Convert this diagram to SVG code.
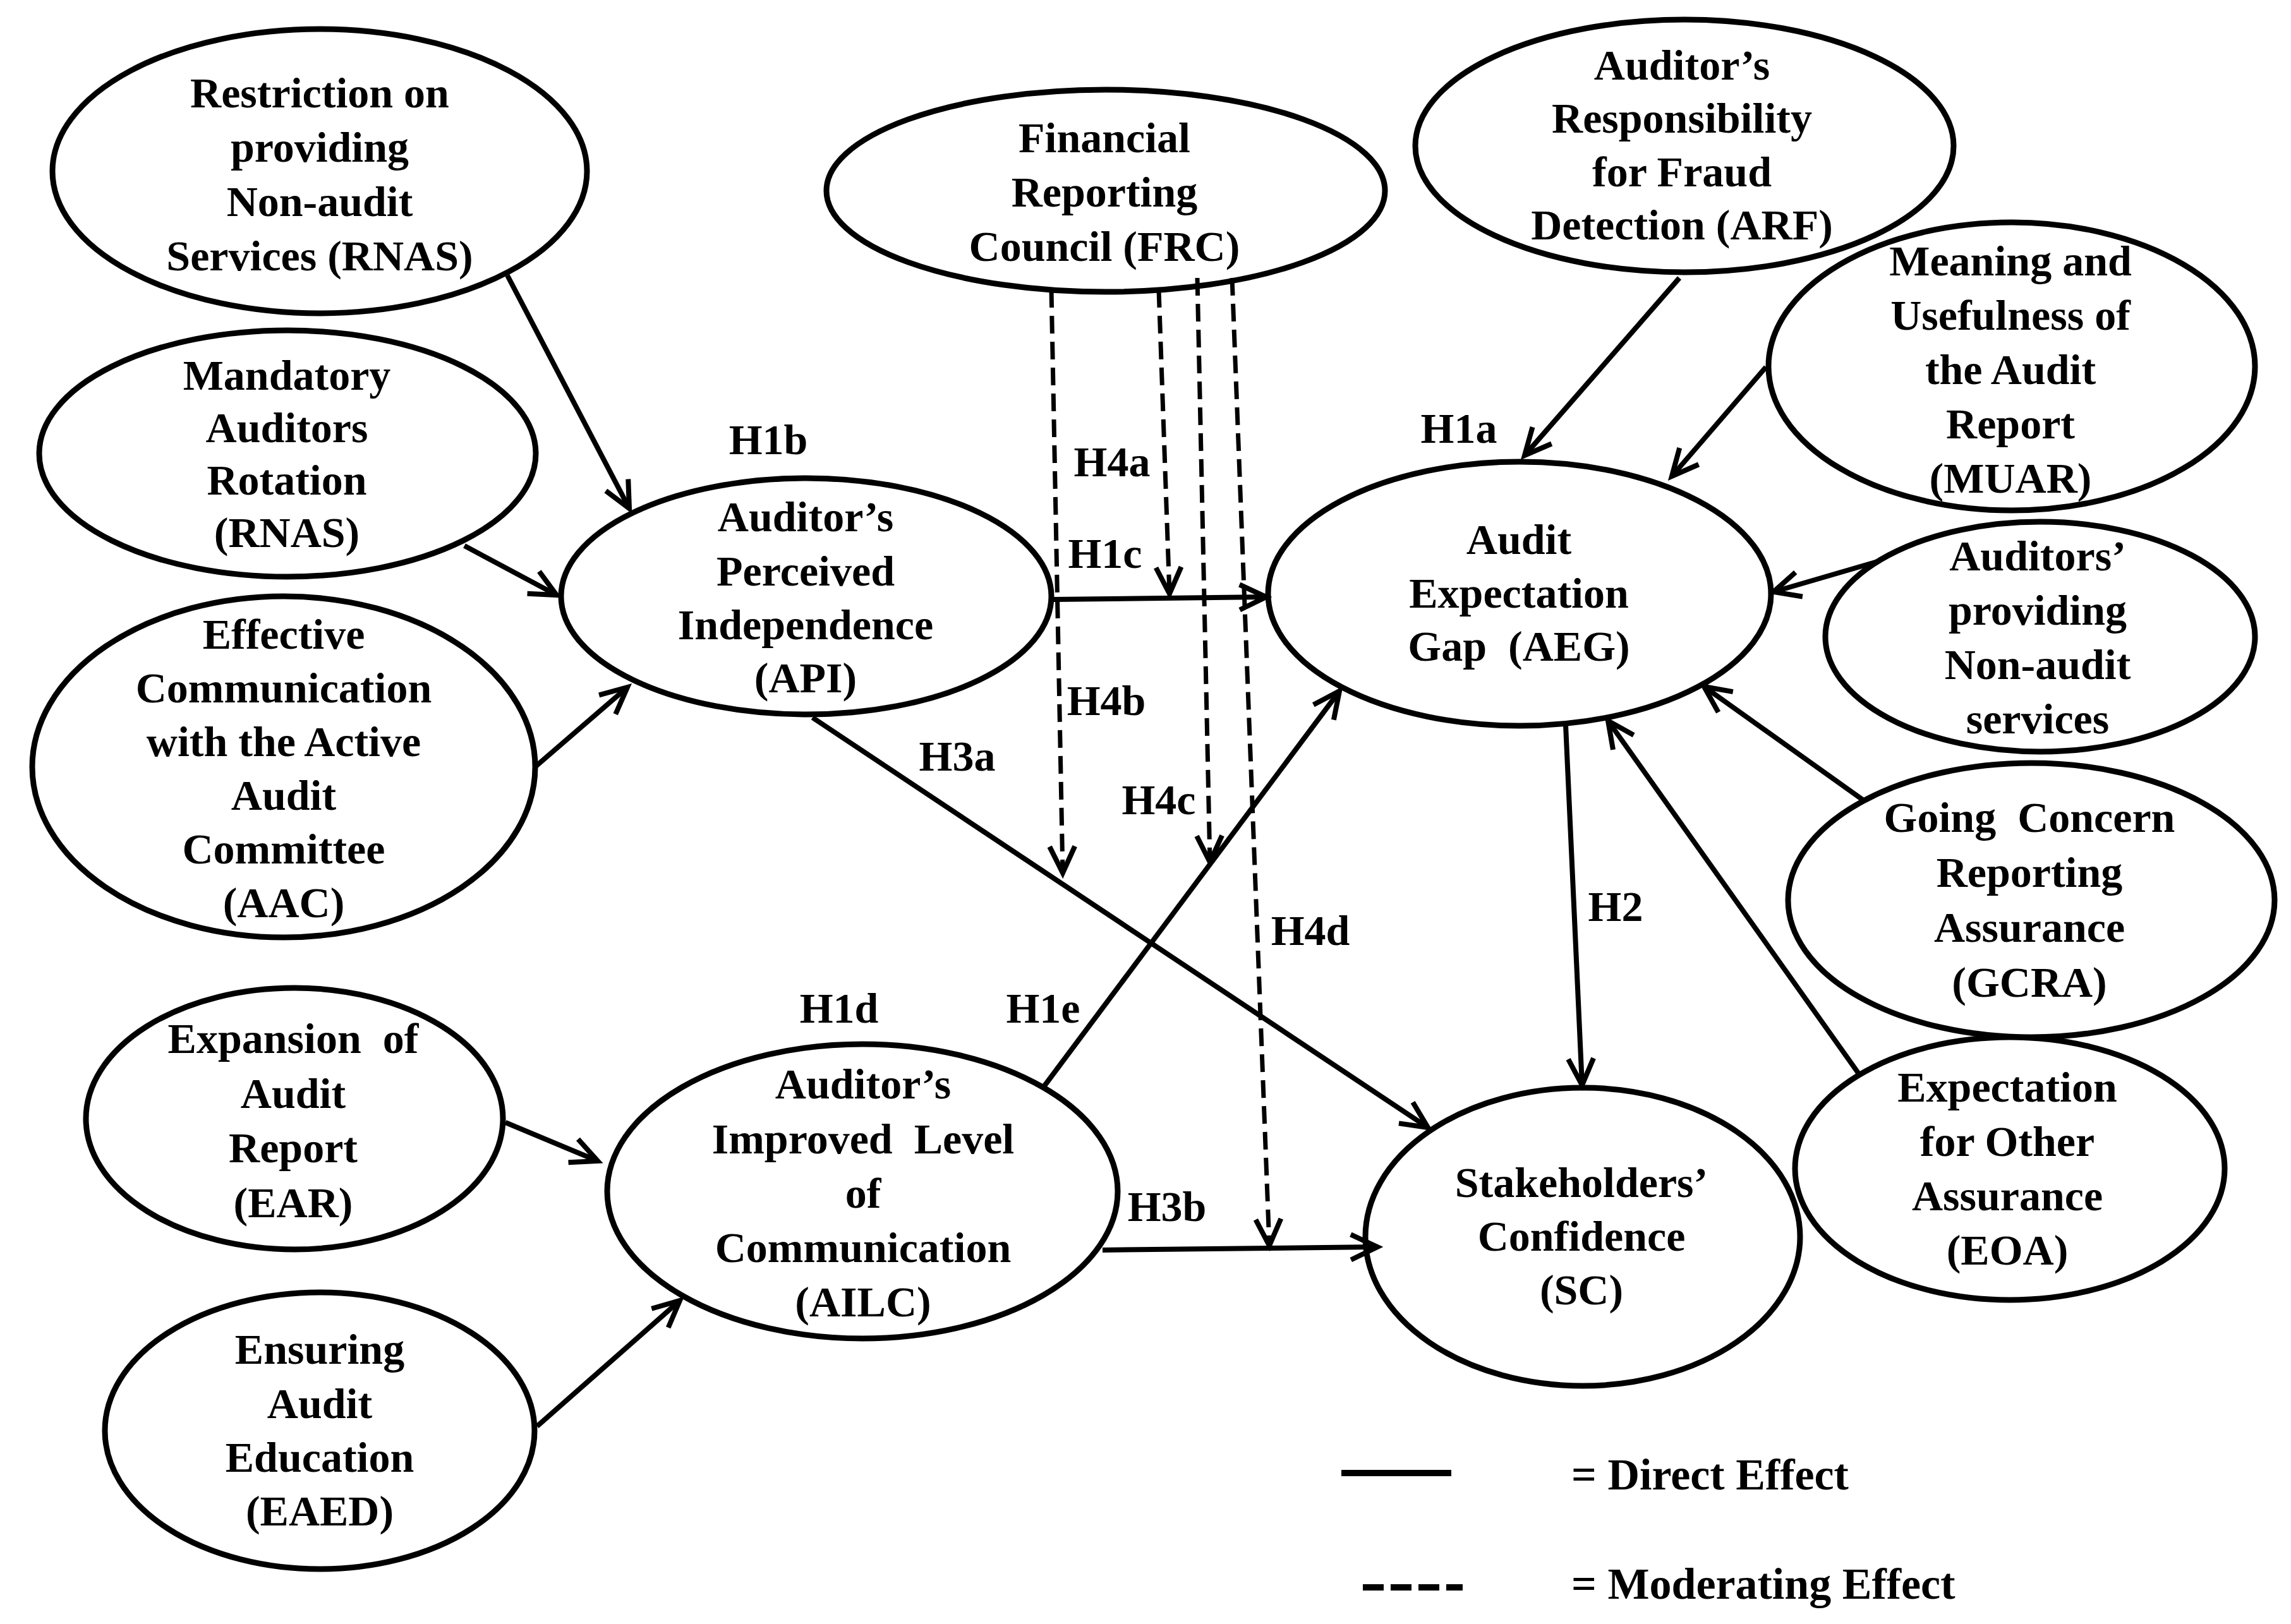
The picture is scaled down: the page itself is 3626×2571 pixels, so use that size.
<svg xmlns="http://www.w3.org/2000/svg" width="3626" height="2571" viewBox="0 0 3626 2571">
<style>
.n ellipse{fill:none;stroke:#000;stroke-width:9}
.n text,.lab text,.leg text{font-family:"Liberation Serif","Times New Roman",serif;font-weight:bold;font-size:68px;text-anchor:middle;fill:#000}
.leg text{text-anchor:start;font-size:70px}
.c{fill:none;stroke:#000;stroke-width:8;marker-end:url(#arr)}
.d{fill:none;stroke:#000;stroke-width:7;stroke-dasharray:28 13;marker-end:url(#arr)}
</style>
<defs>
<marker id="arr" viewBox="-52 -26 56 52" refX="0" refY="0" markerWidth="56" markerHeight="52" markerUnits="userSpaceOnUse" orient="auto" overflow="visible">
<path d="M-42,-20 L0,0 L-42,20" fill="none" stroke="#000" stroke-width="8"/>
</marker>
</defs>
<rect width="3626" height="2571" fill="#fff"/>

<g id="connectors">
<line class="c" x1="803" y1="436" x2="996" y2="805"/>
<line class="c" x1="735" y1="864" x2="881" y2="942"/>
<line class="c" x1="847" y1="1214" x2="993" y2="1088"/>
<line class="c" x1="1668" y1="949" x2="2004" y2="945"/>
<line class="c" x1="1286" y1="1136" x2="2260" y2="1785"/>
<line class="c" x1="1653" y1="1719" x2="2120" y2="1094"/>
<line class="c" x1="1745" y1="1979" x2="2180" y2="1974"/>
<line class="c" x1="800" y1="1777" x2="946" y2="1838"/>
<line class="c" x1="850" y1="2258" x2="1076" y2="2059"/>
<line class="c" x1="2658" y1="440" x2="2413" y2="721"/>
<line class="c" x1="2795" y1="581" x2="2646" y2="754"/>
<line class="c" x1="2975" y1="888" x2="2807" y2="937"/>
<line class="c" x1="2948" y1="1266" x2="2697" y2="1087"/>
<line class="c" x1="2942" y1="1700" x2="2545" y2="1141"/>
<line class="c" x1="2478" y1="1148" x2="2504" y2="1718"/>
<line class="d" x1="1664" y1="459" x2="1682" y2="1382"/>
<line class="d" x1="1834" y1="459" x2="1851" y2="940"/>
<line class="d" x1="1895" y1="440" x2="1915" y2="1365"/>
<line class="d" x1="1950" y1="440" x2="2009" y2="1972"/>
</g>

<g id="labels" class="lab">
<text x="1216" y="719">H1b</text>
<text x="2309" y="701">H1a</text>
<text x="1760" y="754">H4a</text>
<text x="1749" y="899">H1c</text>
<text x="1751" y="1132">H4b</text>
<text x="1515" y="1220">H3a</text>
<text x="1834" y="1289">H4c</text>
<text x="2074" y="1496">H4d</text>
<text x="2557" y="1458">H2</text>
<text x="1328" y="1619">H1d</text>
<text x="1651" y="1619">H1e</text>
<text x="1847" y="1933">H3b</text>
</g>

<g id="RNAS1" class="n">
<ellipse cx="506" cy="271" rx="423" ry="225"/>
<text x="506" y="170">Restriction on</text>
<text x="506" y="256">providing</text>
<text x="506" y="342">Non-audit</text>
<text x="506" y="428">Services (RNAS)</text>
</g>
<g id="MAR" class="n">
<ellipse cx="455" cy="718" rx="393" ry="195"/>
<text x="454" y="617">Mandatory</text>
<text x="454" y="700">Auditors</text>
<text x="454" y="783">Rotation</text>
<text x="454" y="866">(RNAS)</text>
</g>
<g id="AAC" class="n">
<ellipse cx="449" cy="1214" rx="398" ry="270"/>
<text x="449" y="1027">Effective</text>
<text x="449" y="1112">Communication</text>
<text x="449" y="1197">with the Active</text>
<text x="449" y="1282">Audit</text>
<text x="449" y="1367">Committee</text>
<text x="449" y="1452">(AAC)</text>
</g>
<g id="API" class="n">
<ellipse cx="1276" cy="944" rx="388" ry="187"/>
<text x="1275" y="841">Auditor’s</text>
<text x="1275" y="927">Perceived</text>
<text x="1275" y="1012">Independence</text>
<text x="1275" y="1096">(API)</text>
</g>
<g id="FRC" class="n">
<ellipse cx="1750" cy="302" rx="442" ry="160"/>
<text x="1748" y="241">Financial</text>
<text x="1748" y="327">Reporting</text>
<text x="1748" y="413">Council (FRC)</text>
</g>
<g id="ARF" class="n">
<ellipse cx="2666" cy="231" rx="426" ry="200"/>
<text x="2662" y="126">Auditor’s</text>
<text x="2662" y="210">Responsibility</text>
<text x="2662" y="295">for Fraud</text>
<text x="2662" y="379">Detection (ARF)</text>
</g>
<g id="MUAR" class="n">
<ellipse cx="3184" cy="580" rx="385" ry="228"/>
<text x="3182" y="436">Meaning and</text>
<text x="3182" y="522">Usefulness of</text>
<text x="3182" y="608">the Audit</text>
<text x="3182" y="694">Report</text>
<text x="3182" y="780">(MUAR)</text>
</g>
<g id="ANAS" class="n">
<ellipse cx="3229" cy="1008" rx="340" ry="182"/>
<text x="3225" y="903">Auditors’</text>
<text x="3225" y="989">providing</text>
<text x="3225" y="1075">Non-audit</text>
<text x="3225" y="1161">services</text>
</g>
<g id="GCRA" class="n">
<ellipse cx="3215" cy="1425" rx="385" ry="217"/>
<text x="3212" y="1317" xml:space="preserve">Going  Concern</text>
<text x="3212" y="1404">Reporting</text>
<text x="3212" y="1491">Assurance</text>
<text x="3212" y="1578">(GCRA)</text>
</g>
<g id="EOA" class="n">
<ellipse cx="3181" cy="1850" rx="340" ry="208"/>
<text x="3177" y="1744">Expectation</text>
<text x="3177" y="1830">for Other</text>
<text x="3177" y="1916">Assurance</text>
<text x="3177" y="2002">(EOA)</text>
</g>
<g id="AEG" class="n">
<ellipse cx="2405" cy="940" rx="398" ry="209"/>
<text x="2404" y="877">Audit</text>
<text x="2404" y="962">Expectation</text>
<text x="2404" y="1046" xml:space="preserve">Gap  (AEG)</text>
</g>
<g id="AILC" class="n">
<ellipse cx="1365" cy="1886" rx="404" ry="233"/>
<text x="1366" y="1739">Auditor’s</text>
<text x="1366" y="1826" xml:space="preserve">Improved  Level</text>
<text x="1366" y="1912">of</text>
<text x="1366" y="1998">Communication</text>
<text x="1366" y="2084">(AILC)</text>
</g>
<g id="SC" class="n">
<ellipse cx="2505" cy="1958" rx="344" ry="236"/>
<text x="2503" y="1895">Stakeholders’</text>
<text x="2503" y="1980">Confidence</text>
<text x="2503" y="2065">(SC)</text>
</g>
<g id="EAR" class="n">
<ellipse cx="466" cy="1771" rx="330" ry="207"/>
<text x="464" y="1667" xml:space="preserve">Expansion  of</text>
<text x="464" y="1754">Audit</text>
<text x="464" y="1840">Report</text>
<text x="464" y="1927">(EAR)</text>
</g>
<g id="EAED" class="n">
<ellipse cx="506" cy="2265" rx="340" ry="219"/>
<text x="506" y="2159">Ensuring</text>
<text x="506" y="2245">Audit</text>
<text x="506" y="2330">Education</text>
<text x="506" y="2415">(EAED)</text>
</g>

<g id="legend" class="leg">
<line x1="2123" y1="2332" x2="2297" y2="2332" stroke="#000" stroke-width="10"/>
<line x1="2157" y1="2513" x2="2315" y2="2513" stroke="#000" stroke-width="10" stroke-dasharray="33 11"/>
<text x="2487" y="2358">= Direct Effect</text>
<text x="2487" y="2531">= Moderating Effect</text>
</g>
</svg>
